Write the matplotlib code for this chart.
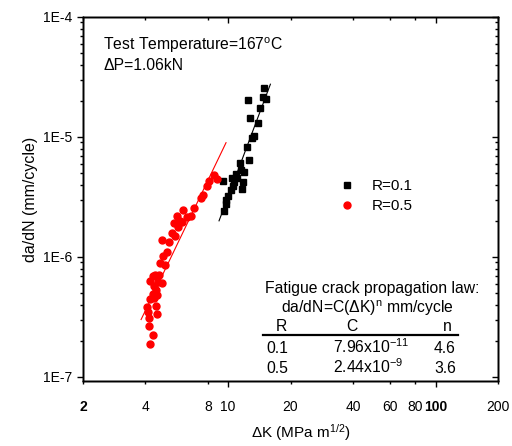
import matplotlib
matplotlib.use('Agg')
import matplotlib.pyplot as plt
import numpy as np
from matplotlib.lines import Line2D
from matplotlib.ticker import FixedLocator, FixedFormatter, LogLocator, NullFormatter

plt.rcParams['font.family'] = ['Liberation Sans', 'DejaVu Sans']
plt.rcParams['mathtext.fontset'] = 'custom'
plt.rcParams['mathtext.rm'] = 'Liberation Sans'
plt.rcParams['mathtext.it'] = 'Liberation Sans:italic'
plt.rcParams['mathtext.bf'] = 'Liberation Sans:bold'

# ---- data ----
dk_r01 = [14.95, 14.66, 15.24, 12.52, 14.26, 12.80, 13.87, 13.37, 13.05, 12.30,
          12.59, 11.42, 11.59, 11.97, 10.96, 10.42, 11.10, 9.49, 11.84, 10.69,
          10.60, 11.64, 10.28, 10.00, 9.83, 9.75, 9.60]
dadn_r01 = [2.56e-5, 2.17e-5, 2.07e-5, 2.03e-5, 1.74e-5, 1.44e-5, 1.31e-5, 1.025e-5, 9.87e-6, 8.29e-6,
            6.47e-6, 6.05e-6, 5.35e-6, 5.08e-6, 4.91e-6, 4.58e-6, 4.55e-6, 4.27e-6, 4.19e-6, 4.19e-6,
            3.87e-6, 3.69e-6, 3.63e-6, 3.22e-6, 2.98e-6, 2.75e-6, 2.42e-6]

dk_r05 = [8.88, 8.59, 8.12, 7.94, 7.60, 7.41, 6.85, 6.09, 6.61, 6.32,
          5.66, 5.87, 5.51, 6.00, 5.74, 5.35, 5.55, 4.78, 5.19, 5.06,
          4.84, 4.70, 4.97, 4.45, 4.67, 4.21, 4.40, 4.61, 4.50, 4.33,
          4.56, 4.21, 4.40, 4.06, 4.50, 4.13, 4.53, 4.17, 4.17, 4.37,
          4.21, 4.79, 4.37]
dadn_r05 = [4.50e-6, 4.80e-6, 4.27e-6, 3.87e-6, 3.30e-6, 3.09e-6, 2.55e-6, 2.48e-6, 2.21e-6, 2.17e-6,
            2.19e-6, 2.00e-6, 1.905e-6, 1.94e-6, 1.79e-6, 1.57e-6, 1.49e-6, 1.38e-6, 1.34e-6, 1.10e-6,
            1.02e-6, 8.95e-7, 8.51e-7, 7.02e-7, 7.10e-7, 6.25e-7, 5.78e-7, 6.17e-7, 5.35e-7, 4.92e-7,
            4.82e-7, 4.47e-7, 4.52e-7, 3.80e-7, 3.87e-7, 3.45e-7, 3.34e-7, 3.13e-7, 2.67e-7, 2.22e-7,
            1.87e-7, 6.08e-7, 6.92e-7]

R_labels = ['0.1', '0.5']
C_values = [7.96e-11, 2.44e-9]
C_labels = [r'7.96x10$^{-11}$', r'2.44x10$^{-9}$']
n_values = [4.6, 3.6]
fit_range_r01 = [9.05, 16.0]
fit_range_r05 = [3.81, 9.78]

x_ticks = [2, 4, 8, 10, 20, 40, 60, 80, 100, 200]
x_ticklabels = ['2', '4', '8', '10', '20', '40', '60', '80', '100', '200']
x_long = [10, 100]
y_ticks = [1e-7, 1e-6, 1e-5, 1e-4]
y_ticklabels = ['1E-7', '1E-6', '1E-5', '1E-4']
x_lim = (2, 200)
y_lim = (9.26e-8, 1e-4)

# ---- figure ----
W, H = 512, 446
fig = plt.figure(figsize=(W / 100, H / 100), dpi=100)
L, R_, T, B = 83, 498, 17, 381
ax = fig.add_axes([L / W, 1 - B / H, (R_ - L) / W, (B - T) / H])

ax.plot(dk_r01, dadn_r01, ls='none', marker='s', ms=4.3, color='black', mec='black',
        label='R=0.1', zorder=3)
ax.plot(dk_r05, dadn_r05, ls='none', marker='o', ms=5.0, color='red', mec='red',
        label='R=0.5', zorder=3)

xf1 = np.array(fit_range_r01)
ax.plot(xf1, C_values[0] * xf1 ** n_values[0], color='black', lw=0.8, zorder=2)
xf2 = np.array(fit_range_r05)
ax.plot(xf2, C_values[1] * xf2 ** n_values[1], color='red', lw=0.8, zorder=2)

ax.set_xscale('log')
ax.set_yscale('log')
ax.set_xlim(*x_lim)
ax.set_ylim(*y_lim)

# x ticks
ax.xaxis.set_major_locator(FixedLocator(x_ticks))
ax.xaxis.set_major_formatter(FixedFormatter(x_ticklabels))
ax.xaxis.set_minor_locator(FixedLocator([]))
# y ticks
ax.yaxis.set_major_locator(FixedLocator(y_ticks))
ax.yaxis.set_major_formatter(FixedFormatter(y_ticklabels))
ax.yaxis.set_minor_locator(LogLocator(base=10, subs=np.arange(2, 10)))
ax.yaxis.set_minor_formatter(NullFormatter())

ax.tick_params(which='major', direction='out', length=4.5, width=1.0, labelsize=10, pad=3)
ax.tick_params(which='minor', direction='out', length=2.5, width=1.0)
ax.tick_params(axis='x', pad=9.5)

for spine in ax.spines.values():
    spine.set_linewidth(1.0)

# per-tick lengths on x
for tk, val in zip(ax.xaxis.get_major_ticks(), x_ticks):
    if val not in x_long:
        tk.tick1line.set_markersize(2.5)
for lab in ax.get_xticklabels():
    if lab.get_text() in ('2', '100'):
        lab.set_fontweight('bold')

# mirrored top/right axes with inward ticks
axt = ax.twiny()
axt.set_xscale('log')
axt.set_xlim(*x_lim)
axt.xaxis.set_major_locator(FixedLocator(x_ticks))
axt.xaxis.set_minor_locator(FixedLocator([]))
axt.tick_params(axis='x', which='major', direction='in', length=4.5, width=1.0, labeltop=False)
for tk, val in zip(axt.xaxis.get_major_ticks(), x_ticks):
    if val not in x_long:
        tk.tick2line.set_markersize(2.5)
axr = ax.twinx()
axr.set_yscale('log')
axr.set_ylim(*y_lim)
axr.yaxis.set_major_locator(FixedLocator(y_ticks))
axr.yaxis.set_minor_locator(LogLocator(base=10, subs=np.arange(2, 10)))
axr.yaxis.set_minor_formatter(NullFormatter())
axr.tick_params(axis='y', which='major', direction='in', length=4.5, width=1.0, labelright=False)
axr.tick_params(axis='y', which='minor', direction='in', length=2.5, width=1.0)
for a in (axt, axr):
    for spine in a.spines.values():
        spine.set_linewidth(1.0)

ax.set_xlabel('ΔK (MPa m$^{1/2}$)', fontsize=11)
ax.set_ylabel('da/dN (mm/cycle)', fontsize=11.5)
ax.xaxis.set_label_coords(0.525, -0.113)
ax.yaxis.set_label_coords(-0.108, 0.5)

# legend
ax.legend(loc='center left', bbox_to_anchor=(335.5 / W, 1 - 196 / H), bbox_transform=fig.transFigure,
          frameon=False, fontsize=11, handlelength=1.5, handletextpad=0.9, labelspacing=0.4,
          borderpad=0, borderaxespad=0, numpoints=1)

# annotations
def fx(px):
    return px / W

def fy(py):
    return 1 - py / H

fs = 11.3
fig.text(fx(103), fy(50), r'Test Temperature=167$^{\mathrm{o}}$C', fontsize=fs, va='baseline', ha='left')
fig.text(fx(103), fy(70), 'ΔP=1.06kN', fontsize=fs, va='baseline', ha='left')

fig.text(fx(372), fy(293), 'Fatigue crack propagation law:', fontsize=fs, va='baseline', ha='center')
fig.text(fx(367), fy(313), r'da/dN=C(ΔK)$^{\mathrm{n}}$ mm/cycle', fontsize=fs, va='baseline', ha='center')
fig.text(fx(281.7), fy(331), 'R', fontsize=fs, va='baseline', ha='center')
fig.text(fx(351.7), fy(331), 'C', fontsize=fs, va='baseline', ha='center')
fig.text(fx(447), fy(331), 'n', fontsize=fs, va='baseline', ha='center')
fig.add_artist(Line2D([fx(263), fx(458)], [fy(334.5), fy(334.5)], color='black', lw=1.6,
                      transform=fig.transFigure))
row_base = [353, 373]
for rl, cl, nv, yb in zip(R_labels, C_labels, n_values, row_base):
    fig.text(fx(277.5), fy(yb), rl, fontsize=fs, va='baseline', ha='center')
    fig.text(fx(333), fy(yb), cl, fontsize=fs, va='baseline', ha='left')
    fig.text(fx(445), fy(yb), f'{nv:.1f}', fontsize=fs, va='baseline', ha='center')

fig.savefig('out.png', dpi=100)
